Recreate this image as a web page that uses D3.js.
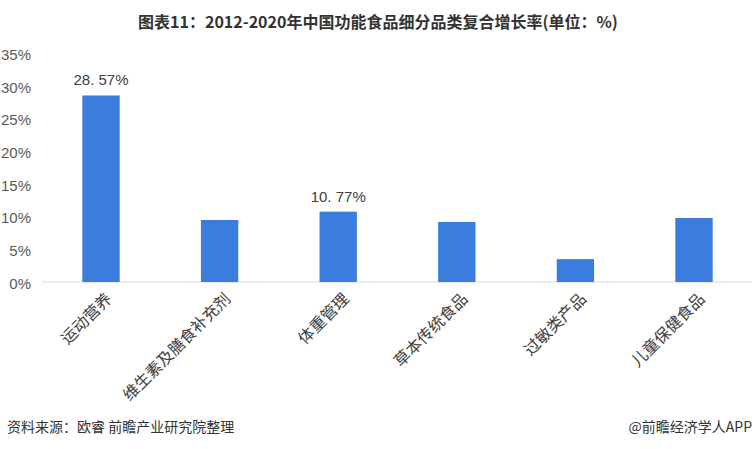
<!DOCTYPE html>
<html><head><meta charset="utf-8">
<script src="https://cdn.jsdelivr.net/npm/d3@7"></script>
<style>
html,body{margin:0;padding:0;background:#fff;}
svg{display:block;font-family:"Noto Sans CJK SC","Noto Sans",sans-serif;}
</style></head>
<body>
<svg id="chart" width="756" height="449"></svg>
<script>
const title = "图表11：2012-2020年中国功能食品细分品类复合增长率(单位：%)";
const categories = ["运动营养","维生素及膳食补充剂","体重管理","草本传统食品","过敏类产品","儿童保健食品"];
const values = [28.57, 9.5, 10.77, 9.2, 3.5, 9.8];
const valueLabels = ["28. 57%", "", "10. 77%", "", "", ""];
const yTicks = [0,5,10,15,20,25,30,35];
const source = "资料来源：欧睿 前瞻产业研究院整理";
const credit = "@前瞻经济学人APP";

const svg = d3.select("#chart");
const x = d3.scaleBand().domain(categories).range([42, 753]).paddingInner(0.685).paddingOuter(0.34);
const y = d3.scaleLinear().domain([0,35]).range([282, 53.5]);

svg.append("text").attr("x", 378).attr("y", 28).attr("text-anchor","middle")
  .attr("font-size", 16).attr("font-weight","bold").attr("fill","#333")
  .attr("font-family","'Noto Sans CJK SC',sans-serif").text(title);

// y axis labels
const ya = svg.append("g").attr("transform","translate(31,0)")
  .call(d3.axisLeft(y).tickValues(yTicks).tickFormat(d=>d+"%").tickSize(0).tickPadding(0));
ya.select(".domain").remove();
ya.selectAll("text").attr("font-size",15).attr("fill","#595959")
  .attr("font-family","'Liberation Sans',Arial,sans-serif").attr("dy","0.4em");

// baseline
svg.append("line").attr("x1",42).attr("x2",752).attr("y1",y(0)).attr("y2",y(0))
  .attr("stroke","#d9d9d9").attr("stroke-width",1);

// bars
svg.selectAll("rect.bar").data(values).enter().append("rect").attr("class","bar")
  .attr("x",(d,i)=>x(categories[i])).attr("width",x.bandwidth())
  .attr("y",d=>y(d)).attr("height",d=>y(0)-y(d)).attr("fill","#3b7ddd");

// value labels
svg.selectAll("text.vl").data(values).enter().append("text").attr("class","vl")
  .attr("x",(d,i)=>x(categories[i])+x.bandwidth()/2).attr("y",d=>y(d)-10)
  .attr("text-anchor","middle").attr("font-size",15).attr("fill","#404040")
  .attr("font-family","'Liberation Sans',Arial,sans-serif")
  .text((d,i)=>valueLabels[i]);

// x labels
svg.selectAll("text.xl").data(categories).enter().append("text").attr("class","xl")
  .attr("transform",d=>`translate(${x(d)+x.bandwidth()/2+4},${y(0)+10}) rotate(-45)`)
  .attr("text-anchor","end").attr("dy","0.7em").attr("font-size",16).attr("fill","#404040")
  .text(d=>d);

// footer
svg.append("text").attr("x",7).attr("y",432).attr("font-size",14).attr("fill","#333").text(source);
svg.append("text").attr("x",752).attr("y",432).attr("text-anchor","end").attr("font-size",14).attr("fill","#333").text(credit);
</script>
</body></html>
